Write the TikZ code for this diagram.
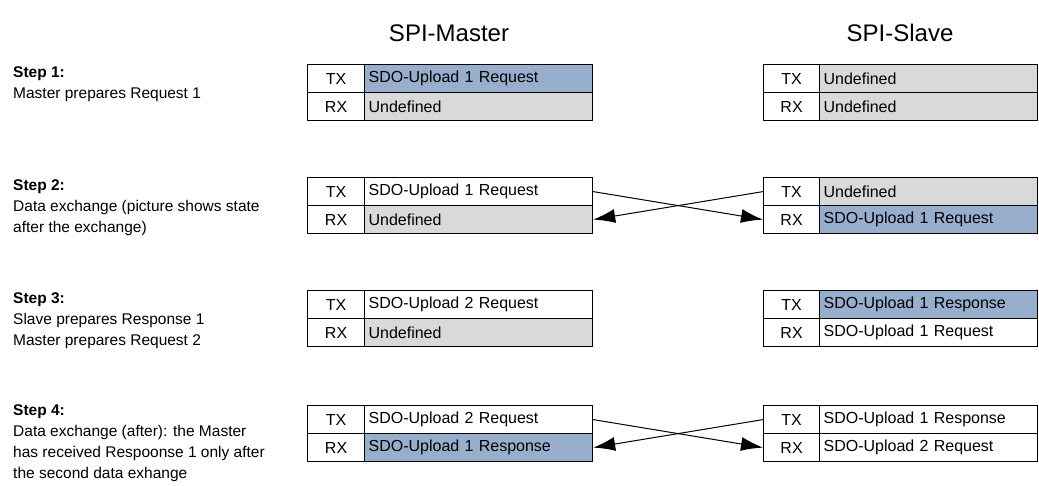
\documentclass[tikz,border=0pt]{standalone}
\usepackage{fontspec}
\setmainfont{Liberation Sans}
\usepackage{tikz}
\usetikzlibrary{arrows.meta, positioning}

\definecolor{sdoblue}{RGB}{152,174,205}
\definecolor{undefgrey}{RGB}{217,217,217}

\begin{document}
\begin{tikzpicture}[
  x=1pt, y=-1pt,
  cell/.style={draw, line width=1.2pt, minimum height=28pt, inner sep=0pt, anchor=north west,
    font=\fontsize{16}{18}\selectfont},
  lcell/.style={cell, align=center},
  vcell/.style={cell, align=left, inner xsep=4pt},
  hdr/.style={font=\fontsize{24}{28}\selectfont},
  stepnote/.style={anchor=north west, inner sep=0pt, align=left,
    font=\fontsize{15.5}{21}\selectfont},
  xarrow/.style={-{Latex[length=22pt, width=14pt]}, line width=1pt}
]
  \useasboundingbox (0,0) rectangle (1039,486);
  % Headers
  \node[hdr] (hmaster) at (449,33) {SPI-Master};
  \node[hdr] (hslave) at (900,33) {SPI-Slave};
  % Step descriptions
  \node[stepnote] (n1) at (13,66) {\textbf{Step 1:}\\Master prepares Request 1};
  \node[stepnote] (n2) at (13,179) {\textbf{Step 2:}\\Data exchange (picture shows state\\after the exchange)};
  \node[stepnote] (n3) at (13,292) {\textbf{Step 3:}\\Slave prepares Response 1\\Master prepares Request 2};
  \node[stepnote] (n4) at (13,404) {\textbf{Step 4:}\\Data exchange (after): the Master\\has received Respoonse 1 only after\\the second data exhange};
  % Buffers: step/top/master TX/colour/master RX/colour/slave TX/colour/slave RX/colour
  \foreach \s/\t/\mtx/\mtc/\mrx/\mrc/\stx/\stc/\srx/\src in {%
    1/64/SDO-Upload 1 Request/sdoblue/Undefined/undefgrey/Undefined/undefgrey/Undefined/undefgrey,%
    2/177/SDO-Upload 1 Request/white/Undefined/undefgrey/Undefined/undefgrey/SDO-Upload 1 Request/sdoblue,%
    3/290/SDO-Upload 2 Request/white/Undefined/undefgrey/SDO-Upload 1 Response/sdoblue/SDO-Upload 1 Request/white,%
    4/405/SDO-Upload 2 Request/white/SDO-Upload 1 Response/sdoblue/SDO-Upload 1 Response/white/SDO-Upload 2 Request/white%
  }{
    \node[lcell, minimum width=57pt] (m\s tl) at (307,\t) {TX};
    \node[lcell, minimum width=57pt] (m\s rl) at (307,\t+28) {RX};
    \node[vcell, fill=\mtc, text width=220pt] (m\s tv) at (364,\t) {\mtx};
    \node[vcell, fill=\mrc, text width=220pt] (m\s rv) at (364,\t+28) {\mrx};
    \node[lcell, minimum width=56pt] (s\s tl) at (763,\t) {TX};
    \node[lcell, minimum width=56pt] (s\s rl) at (763,\t+28) {RX};
    \node[vcell, fill=\stc, text width=210pt] (s\s tv) at (819,\t) {\stx};
    \node[vcell, fill=\src, text width=210pt] (s\s rv) at (819,\t+28) {\srx};
  }
  % Data exchange
  \draw[xarrow] (m2tv.east) -- (s2rl.west);
  \draw[xarrow] (s2tl.west) -- (m2rv.east);
  \draw[xarrow] (m4tv.east) -- (s4rl.west);
  \draw[xarrow] (s4tl.west) -- (m4rv.east);
\end{tikzpicture}
\end{document}
